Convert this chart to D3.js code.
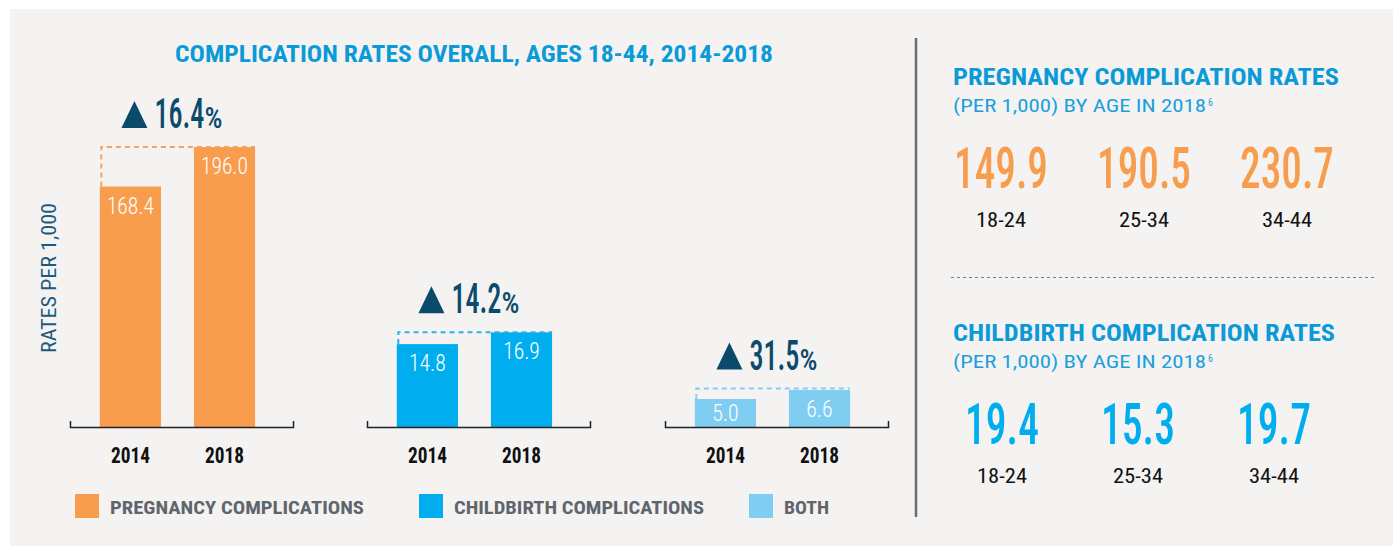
<!DOCTYPE html>
<html>
<head>
<meta charset="utf-8">
<title>complication rates</title>
<script src="https://cdn.jsdelivr.net/npm/d3@7"></script>
<style>
  body { margin: 0; background: #ffffff; }
  svg { display: block; font-family: "Roboto Condensed", "Liberation Sans Narrow", "Roboto", sans-serif; }
</style>
</head>
<body>
<div class="chart"></div>
<script>
// ---- data ----
var years = ['2014', '2018'];
var groups = ['PREGNANCY COMPLICATIONS', 'CHILDBIRTH COMPLICATIONS', 'BOTH'];
var pregnancy = [168.4, 196.0];
var childbirth = [14.8, 16.9];
var both = [5.0, 6.6];
var changes = [16.4, 14.2, 31.5];

var ageGroups = ['18-24', '25-34', '34-44'];
var pregnancyByAge = [149.9, 190.5, 230.7];
var childbirthByAge = [19.4, 15.3, 19.7];

// ---- colours ----
var barColors = ['#f89d4e', '#00aeef', '#80cdf2'];
var dashColors = ['#f8a35c', '#2ab3ea', '#86cff2'];
var navy = '#0c4a6c';
var titleBlue = '#0b9ad7';

var W = 1393, H = 546;
var svg = d3.select('.chart').append('svg')
    .attr('width', W)
    .attr('height', H);

svg.append('rect')
    .attr('x', 10).attr('y', 9)
    .attr('width', W - 10).attr('height', H - 9)
    .attr('fill', '#f4f3f2');

function addText(sel, str, o) {
    var t = sel.append('text')
        .text(str)
        .attr('x', o.x)
        .attr('y', o.y)
        .attr('font-size', o.size)
        .attr('font-weight', o.weight || 400)
        .attr('fill', o.fill)
        .attr('text-anchor', o.anchor || 'start');
    if (o.w) {
        t.attr('textLength', o.w).attr('lengthAdjust', 'spacingAndGlyphs');
    }
    return t;
}

// title
addText(svg, 'COMPLICATION RATES OVERALL, AGES 18-44, 2014-2018',
    {x: 175, y: 62, size: 24, weight: 700, fill: titleBlue, w: 598});

// y label
svg.append('g')
    .attr('transform', 'translate(56,278) rotate(-90)')
    .call(function (g) {
        addText(g, 'RATES PER 1,000', {x: 0, y: 0, size: 21, fill: '#1d5a7e', anchor: 'middle', w: 150});
    });

// ---- bar groups ----
var baseY = 427;
var groupX = [70, 367, 665];
var groupW = 223;
var series = [pregnancy, childbirth, both];

var yBig = d3.scaleLinear().domain([0, 200]).range([baseY, baseY - 1.428 * 200]);
var ySmall = d3.scaleLinear().domain([0, 20]).range([baseY, baseY - 5.6 * 20]);
var yScales = [yBig, ySmall, ySmall];

series.forEach(function (vals, gi) {
    var x = d3.scaleBand()
        .domain(years)
        .range([groupX[gi], groupX[gi] + groupW])
        .paddingInner(0.35)
        .paddingOuter(0.36)
        .align(0.44);
    var y = yScales[gi];
    var g = svg.append('g');

    g.selectAll('rect.bar')
        .data(vals)
        .join('rect')
        .attr('class', 'bar')
        .attr('x', function (d, i) { return x(years[i]); })
        .attr('y', function (d) { return y(d); })
        .attr('width', x.bandwidth())
        .attr('height', function (d) { return baseY - y(d); })
        .attr('fill', barColors[gi]);

    g.selectAll('text.val')
        .data(vals)
        .join('text')
        .attr('class', 'val')
        .attr('x', function (d, i) { return x(years[i]) + x.bandwidth() / 2; })
        .attr('y', function (d) { return Math.min(y(d) + 27, (y(d) + baseY) / 2 + 8); })
        .attr('text-anchor', 'middle')
        .attr('font-size', 23)
        .attr('font-weight', 300)
        .attr('fill', '#ffffff')
        .attr('textLength', function (d) { return d.toFixed(1).length * 10.3 - 4.5; })
        .attr('lengthAdjust', 'spacingAndGlyphs')
        .text(function (d) { return d.toFixed(1); });

    // dashed connector
    var x1 = x(years[0]) + 1.5;
    var x2 = x(years[1]) + x.bandwidth();
    var dashY = y(vals[1]) - (gi === 2 ? 1.5 : 0);
    g.append('path')
        .attr('d', 'M' + x1 + ',' + y(vals[0]) + 'V' + dashY + 'H' + x2)
        .attr('fill', 'none')
        .attr('stroke', dashColors[gi])
        .attr('stroke-width', 2)
        .attr('stroke-dasharray', '5,4');

    // axis
    var axis = g.append('g')
        .attr('transform', 'translate(0,' + baseY + ')')
        .call(d3.axisBottom(x).tickSizeInner(0).tickSizeOuter(-6).tickPadding(20));
    axis.select('.domain').attr('stroke', '#222').attr('stroke-width', 1.5);
    axis.selectAll('.tick text')
        .attr('font-size', 22)
        .attr('font-weight', 700)
        .attr('fill', '#111')
        .attr('textLength', 39)
        .attr('lengthAdjust', 'spacingAndGlyphs');
    axis.attr('font-family', null);

    // change label: triangle, number and a smaller % in one text
    var cx = (x(years[0]) + x2) / 2 - 5;
    var by = dashY - 19;
    var left = cx - 51;
    g.append('path')
        .attr('d', 'M' + left + ',' + by + 'L' + (left + 13) + ',' + (by - 27) + 'L' + (left + 26) + ',' + by + 'Z')
        .attr('fill', navy);
    var lab = g.append('text')
        .attr('x', left + 33)
        .attr('y', by)
        .attr('fill', navy)
        .attr('font-weight', 500);
    lab.append('tspan')
        .attr('font-size', 43)
        .attr('textLength', 50)
        .attr('lengthAdjust', 'spacingAndGlyphs')
        .text(changes[gi].toFixed(1));
    lab.append('tspan')
        .attr('font-size', 30)
        .attr('textLength', 18)
        .attr('lengthAdjust', 'spacingAndGlyphs')
        .text('%');
});

// legend
var legendX = [75, 419, 749];
var legendW = [254, 250, 45];
groups.forEach(function (name, i) {
    svg.append('rect')
        .attr('x', legendX[i]).attr('y', 494)
        .attr('width', 24).attr('height', 24)
        .attr('fill', barColors[i]);
    addText(svg, name, {x: legendX[i] + 35, y: 514, size: 19, weight: 700, fill: '#60656c', w: legendW[i]});
});

// divider
svg.append('line')
    .attr('x1', 916).attr('x2', 916)
    .attr('y1', 38).attr('y2', 517)
    .attr('stroke', '#6a6d72')
    .attr('stroke-width', 2.5);

// ---- right panel ----
function agePanel(headline, headW, top, vals, color, range) {
    addText(svg, headline, {x: 953, y: top, size: 23, weight: 700, fill: titleBlue, w: headW});
    var sub = addText(svg, '(PER 1,000) BY AGE IN 2018', {x: 953, y: top + 27, size: 19, fill: '#1ba0dd', w: 253});
    svg.append('text')
        .attr('x', 1208)
        .attr('y', top + 21)
        .attr('font-size', 10)
        .attr('fill', '#1ba0dd')
        .text('6');

    var x = d3.scalePoint().domain(ageGroups).range(range);
    svg.append('g').selectAll('text')
        .data(vals)
        .join('text')
        .attr('x', function (d, i) { return x(ageGroups[i]); })
        .attr('y', top + 103)
        .attr('text-anchor', 'middle')
        .attr('font-size', 58)
        .attr('font-weight', 500)
        .attr('fill', color)
        .attr('textLength', function (d) { return d.toFixed(1).length * 20 - 6; })
        .attr('lengthAdjust', 'spacingAndGlyphs')
        .text(function (d) { return d.toFixed(1); });

    svg.append('g').selectAll('text')
        .data(ageGroups)
        .join('text')
        .attr('x', function (d) { return x(d); })
        .attr('y', top + 142)
        .attr('text-anchor', 'middle')
        .attr('font-size', 21)
        .attr('fill', '#111')
        .attr('textLength', 50)
        .attr('lengthAdjust', 'spacingAndGlyphs')
        .text(function (d) { return d; });
}

agePanel('PREGNANCY COMPLICATION RATES', 386, 85, pregnancyByAge, '#f89d4e', [1001, 1287]);

svg.append('line')
    .attr('x1', 951).attr('x2', 1375)
    .attr('y1', 277.5).attr('y2', 277.5)
    .attr('stroke', '#7a7a7a')
    .attr('stroke-width', 1)
    .attr('stroke-dasharray', '3,3');

agePanel('CHILDBIRTH COMPLICATION RATES', 382, 341, childbirthByAge, '#00aeef', [1002, 1274]);
</script>
</body>
</html>
